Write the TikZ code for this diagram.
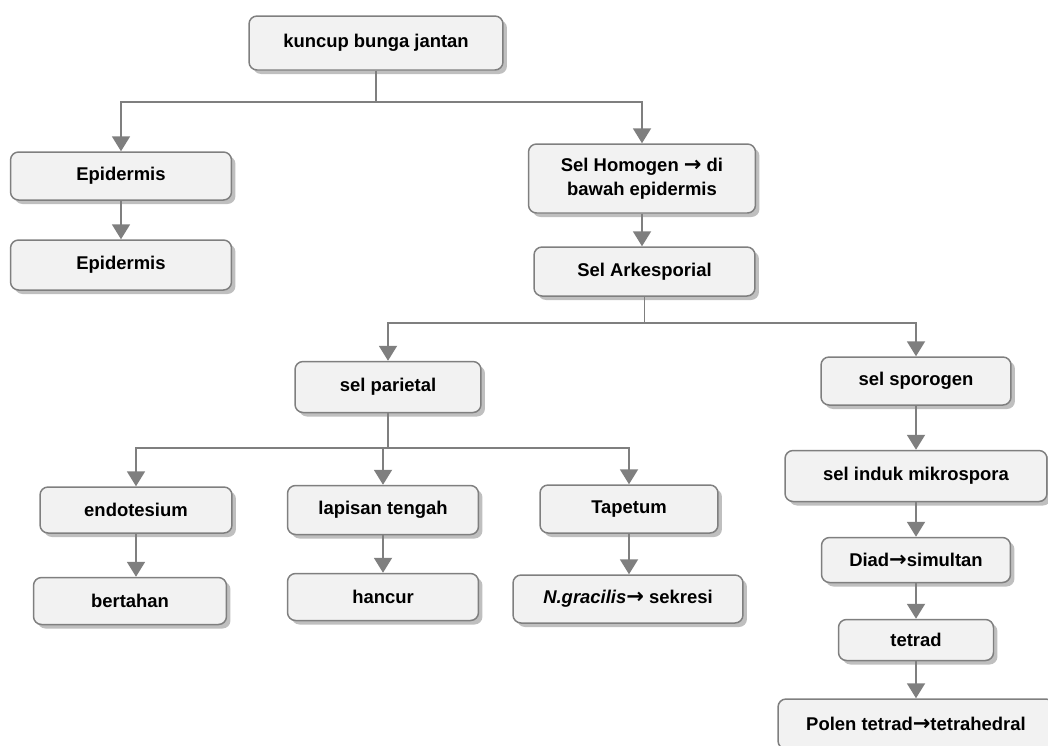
\documentclass[tikz,border=0pt]{standalone}
\usepackage{fontspec}
\setmainfont{Liberation Sans}
\newfontfamily\symfont{DejaVu Sans}
\usepackage{tikz}
\usetikzlibrary{arrows.meta,
           shadows,                   % pour les ombres des boites
           positioning}
\definecolor{boite}{HTML}{F2F2F2}
\definecolor{trait}{HTML}{7F7F7F}
\definecolor{ombre}{HTML}{BFBFBF}
\newcommand{\fleche}{{\symfont\bfseries\fontsize{12}{13.6}\selectfont →}}
\tikzset{
  boite/.style={draw=trait,line width=0.85pt,fill=boite,rounded corners=0.16cm,
    align=center,inner sep=0,font=\fontsize{10.5}{13.6}\selectfont\bfseries,
    drop shadow={shadow xshift=0.08cm,shadow yshift=-0.08cm,fill=ombre,opacity=1}},
  trait/.style={draw=trait,line width=1.1pt},
  fleche/.style={trait,-{Triangle[width=0.36cm,length=0.3cm]}}
}
\begin{document}
\begin{tikzpicture}[x=0.02cm,y=-0.02cm]
\useasboundingbox(0,0)rectangle(1048,745);
\clip(0,0)rectangle(1048,745);
% boites
\node[boite,minimum width=5.08cm,minimum height=1.08cm](kuncup)at(376,43){kuncup bunga jantan};
\node[boite,minimum width=4.42cm,minimum height=0.96cm](epi1)at(121,176){Epidermis};
\node[boite,minimum width=4.42cm,minimum height=1cm](epi2)at(121,265){Epidermis};
\node[boite,minimum width=4.54cm,minimum height=1.38cm](homogen)at(642,178.5){Sel Homogen \fleche{} di\\bawah epidermis};
\node[boite,minimum width=4.42cm,minimum height=0.98cm](arkes)at(644.5,271.5){Sel Arkesporial};
\node[boite,minimum width=3.72cm,minimum height=1.02cm](parietal)at(388,387){sel parietal};
\node[boite,minimum width=3.8cm,minimum height=0.96cm](sporogen)at(916,381){sel sporogen};
\node[boite,minimum width=3.84cm,minimum height=0.92cm](endo)at(136,510){endotesium};
\node[boite,minimum width=3.82cm,minimum height=0.98cm](lapisan)at(383,510){lapisan tengah};
\node[boite,minimum width=3.56cm,minimum height=0.96cm](tapetum)at(629,509){Tapetum};
\node[boite,minimum width=3.86cm,minimum height=0.94cm](bertahan)at(130,601){bertahan};
\node[boite,minimum width=3.82cm,minimum height=0.94cm](hancur)at(383,597){hancur};
\node[boite,minimum width=4.6cm,minimum height=0.96cm](sekresi)at(628,599){\itshape N.gracilis\upshape\fleche{} sekresi};
\node[boite,minimum width=5.24cm,minimum height=1.02cm](induk)at(916,476){sel induk mikrospora};
\node[boite,minimum width=3.78cm,minimum height=0.9cm](diad)at(916,560){Diad\fleche simultan};
\node[boite,minimum width=3.1cm,minimum height=0.82cm](tetrad)at(916,640){tetrad};
\node[boite,minimum width=5.52cm,minimum height=1cm](polen)at(916,724){Polen tetrad\fleche tetrahedral};
% embranchements
\coordinate(f1)at(376,102);
\coordinate(f2)at(644.5,323);
\coordinate(f3)at(388,448);
\draw[trait](kuncup.south)--(f1);
\draw[fleche](f1)-|(epi1.north);
\draw[fleche](f1)-|(homogen.north);
\draw[trait](arkes.south)--(f2);
\draw[fleche](f2)-|(parietal.north);
\draw[fleche](f2)-|(sporogen.north);
\draw[trait](parietal.south)--(f3);
\draw[fleche](f3)-|(endo.north);
\draw[fleche](f3)-|(lapisan.north);
\draw[fleche](f3)-|(tapetum.north);
% suites
\draw[fleche](epi1)--(epi2);
\draw[fleche](homogen)--(homogen|-arkes.north);
\draw[fleche](endo)--(endo|-bertahan.north);
\draw[fleche](lapisan)--(hancur);
\draw[fleche](tapetum)--(tapetum|-sekresi.north);
\draw[fleche](sporogen)--(induk);
\draw[fleche](induk)--(diad);
\draw[fleche](diad)--(tetrad);
\draw[fleche](tetrad)--(polen);
\end{tikzpicture}
\end{document}
